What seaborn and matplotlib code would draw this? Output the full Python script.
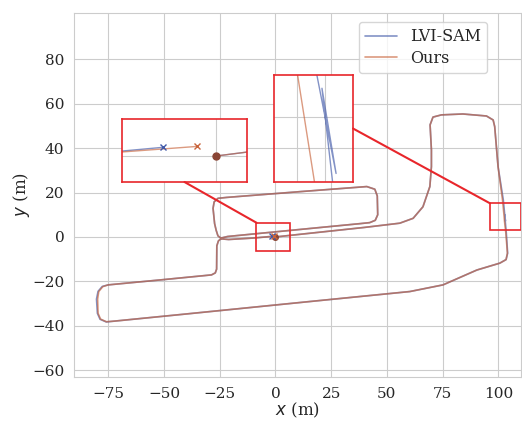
import pandas as pd
import numpy as np
import matplotlib
matplotlib.use('Agg')
import matplotlib.pyplot as plt
import seaborn as sns
from matplotlib.patches import Rectangle, ConnectionPatch

# Plot style
sns.set_style('whitegrid')
plt.rcParams['font.family'] = ['DejaVu Serif']

# trajectory of our method (x, y in metres)
ours_x = [0, 20, 40, 55.8, 61.8, 66.2, 69.3, 70.0, 70.0, 69.4, 70.7, 74.5, 84.1, 94.7, 97.7, 98.4,
          99.9, 101.9, 102.52, 102.82, 103.4, 104.1, 103.5, 100.7, 90.4, 75.2, 60.3, 15.4, -40,
          -72, -75.9, -78.5, -79.6, -79.8, -79.3, -77.5, -75.1, -50, -28.7, -27.0, -26.4, -26.3,
          -25.6, -24.0, -21.5, 0, 20, 38, 42.3, 44.8, 45.9, 45.7, 44.6, 41, 10.9, -22, -25.8,
          -27.5, -28, -27.3, -26.6, -25.8, -24, -21, -10, -3, -0.6]
ours_y = [0, 2.15, 4.3, 6.2, 8.4, 13.6, 22.7, 31.7, 39.2, 50.5, 54.0, 55.0, 55.4, 54.5, 52.7, 49.7,
          31.7, 16.7, 10.3, 6.9, 1.8, -7.3, -10.2, -11.8, -14.9, -21.6, -24.6, -29.1, -34.7,
          -37.9, -38.2, -37.0, -34.4, -28, -24.6, -22.4, -21.6, -19.2, -17.1, -16.2, -14.5, -4.0,
          -1.8, -0.4, 0.2, 2.3, 4.25, 6.0, 6.45, 7.5, 10, 18.5, 21.5, 22.7, 20.4, 17.8, 17.4,
          15.8, 12.9, 6, 3, 0.5, -0.9, -1.15, -0.5, 0.11, 0.26]

# trajectory of LVI-SAM
lvi_x = [0, 20, 40, 55.8, 61.8, 66.2, 69.3, 70.0, 70.0, 69.4, 70.7, 74.5, 84.1, 94.7, 97.7, 98.4,
         99.9, 102.25, 102.84, 103.2, 102.95, 103.14, 103.6, 104.2, 103.5, 100.7, 90.4, 75.2, 60.3,
         15.4, -40, -72, -75.9, -78.7, -79.9, -80.3, -79.6, -77.7, -75.1, -50, -28.7, -27.0, -26.4,
         -26.3, -25.6, -24.0, -21.5, 0, 20, 38, 42.3, 44.8, 45.9, 45.7, 44.6, 41, 10.9, -22, -25.8,
         -27.5, -28, -27.3, -26.6, -25.8, -24, -21, -10, -3, -1.7]
lvi_y = [0, 2.15, 4.3, 6.2, 8.4, 13.6, 22.7, 31.7, 39.2, 50.5, 54.0, 55.0, 55.4, 54.5, 52.7, 49.7,
         31.7, 16.7, 10.5, 7.2, 9.9, 6.9, 1.8, -7.3, -10.2, -11.8, -14.9, -21.6, -24.6,
         -29.1, -34.7, -37.9, -38.3, -37.1, -34.4, -28, -24.5, -22.3, -21.6, -19.2, -17.1, -16.2,
         -14.5, -4.0, -1.8, -0.4, 0.2, 2.3, 4.25, 6.0, 6.45, 7.5, 10, 18.5, 21.5, 22.7, 20.4, 17.8,
         17.4, 15.8, 12.9, 6, 3, 0.5, -0.9, -1.15, -0.5, 0.135, 0.235]

x_ticks = [-75, -50, -25, 0, 25, 50, 75, 100]
y_ticks = [-60, -40, -20, 0, 20, 40, 60, 80]

# zoom boxes (xmin, xmax, ymin, ymax) and the range shown in each inset
box1 = (-8.5, 6.4, -6.2, 6.4)
box2 = (96.2, 110.4, 3.2, 15.2)
inset1_lim = (-3, 1, -0.7, 1.0)
inset2_lim = (102.1, 103.5, 6.93, 10.32)

df = pd.concat([pd.DataFrame({'x': lvi_x, 'y': lvi_y, 'method': 'LVI-SAM'}),
                pd.DataFrame({'x': ours_x, 'y': ours_y, 'method': 'Ours'})],
               ignore_index=True)
palette = {'LVI-SAM': '#4058a8', 'Ours': '#c8643c'}
red = '#e8262b'


def draw_traj(ax, lw, legend=False, ms=4):
    sns.lineplot(data=df, x='x', y='y', hue='method', palette=palette, sort=False,
                 estimator=None, alpha=0.65, linewidth=lw, legend=legend, ax=ax)
    ax.plot(ours_x[0], ours_y[0], 'o', color='#8a4535', ms=ms, zorder=5)
    ax.plot(lvi_x[-1], lvi_y[-1], 'x', color=palette['LVI-SAM'], ms=ms, mew=1, zorder=5)
    ax.plot(ours_x[-1], ours_y[-1], 'x', color=palette['Ours'], ms=ms, mew=1, zorder=5)


fig = plt.figure(figsize=(5.22, 4.21), dpi=100)
ax = fig.add_axes([74 / 522, 1 - 377 / 421, 447 / 522, 364 / 421])
draw_traj(ax, 1.2, legend=True, ms=4)
ax.set_xlim(-90.4, 110.2)
ax.set_ylim(-63.1, 100.9)
ax.set_xticks(x_ticks)
ax.set_yticks(y_ticks)
ax.tick_params(labelsize=11)
ax.set_xlabel('$x$ (m)', fontsize=12, labelpad=0)
ax.set_ylabel('$y$ (m)', fontsize=12, labelpad=0)

handles, labels = ax.get_legend_handles_labels()
ax.legend(handles, labels, loc='upper right', bbox_to_anchor=(0.924, 0.976),
          borderaxespad=0, fontsize=11.5, labelspacing=0.3, borderpad=0.4)

for b in [box1, box2]:
    ax.add_patch(Rectangle((b[0], b[2]), b[1] - b[0], b[3] - b[2], fill=False,
                           edgecolor=red, linewidth=1.2, zorder=6))

# inset 1: start / end point
ax1 = fig.add_axes([122 / 522, 1 - 182 / 421, 125 / 522, 63 / 421])
draw_traj(ax1, 1.0, ms=5)
ax1.set_xlim(inset1_lim[0], inset1_lim[1])
ax1.set_ylim(inset1_lim[2], inset1_lim[3])
ax1.set_xticks([0])
ax1.set_yticks([0])

# inset 2: right side
ax2 = fig.add_axes([274 / 522, 1 - 182 / 421, 79 / 522, 107 / 421])
draw_traj(ax2, 1.0, ms=5)
ax2.set_xlim(inset2_lim[0], inset2_lim[1])
ax2.set_ylim(inset2_lim[2], inset2_lim[3])
ax2.set_xticks([102.5, 103.0])
ax2.set_yticks([8, 9])

for a in [ax1, ax2]:
    a.set_xlabel('')
    a.set_ylabel('')
    a.tick_params(labelbottom=False, labelleft=False, length=0)
    for s in a.spines.values():
        s.set_edgecolor(red)
        s.set_linewidth(1.2)

con1 = ConnectionPatch(xyA=(0.5, 0), coordsA=ax1.transAxes, xyB=(box1[0], box1[3]),
                       coordsB=ax.transData, color=red, linewidth=1.5)
con2 = ConnectionPatch(xyA=(1, 0.5), coordsA=ax2.transAxes, xyB=(box2[0], box2[3]),
                       coordsB=ax.transData, color=red, linewidth=1.5)
fig.add_artist(con1)
fig.add_artist(con2)

fig.savefig('out.png', dpi=100)
